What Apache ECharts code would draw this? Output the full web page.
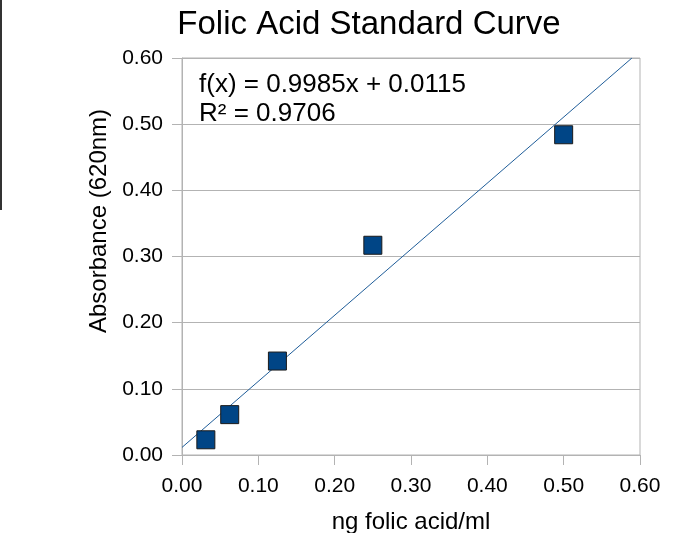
<!DOCTYPE html>
<html>
<head>
<meta charset="utf-8">
<script src="https://cdn.jsdelivr.net/npm/echarts@6/dist/echarts.min.js"></script>
<style>
  html, body { margin: 0; padding: 0; background: #fff; }
  #chart { width: 675px; height: 533px; }
</style>
</head>
<body>
<div id="chart"></div>
<script>
// standards (ng folic acid/ml) and measured absorbance at 620nm
const concentrations = [0.03125, 0.0625, 0.125, 0.25, 0.5]
const absorbance = [0.023, 0.061, 0.142, 0.317, 0.484]

// linear trend line ends (clipped at the top of the plot)
const trendX = [0, 0.5894]
const trendY = [0.0115, 0.6]

const axisTicks = ['0.00', '0.10', '0.20', '0.30', '0.40', '0.50', '0.60']
const equationLines = ['f(x) = 0.9985x + 0.0115', 'R² = 0.9706']
const yTitle = 'Absorbance (620nm)'

const font = 'Liberation Sans, Arial, sans-serif'
const gray = '#b3b3b3'

const chart = echarts.init(document.getElementById('chart'))

const axisCommon = {
  type: 'value',
  min: 0,
  max: 0.6,
  interval: 0.1,
  axisLine: { show: true, lineStyle: { color: gray } },
  axisTick: { show: true, inside: false, length: 10, lineStyle: { color: gray } },
  axisLabel: {
    color: '#000',
    fontFamily: font,
    fontSize: 21,
    formatter: v => axisTicks[Math.round(v * 10)]
  },
  nameLocation: 'middle',
  nameTextStyle: { color: '#000', fontFamily: font, fontSize: 24 }
}

chart.setOption({
  animation: false,
  title: {
    text: 'Folic Acid Standard Curve',
    left: 364,
    textAlign: 'center',
    top: 3,
    textStyle: { color: '#000', fontFamily: font, fontSize: 33, fontWeight: 'normal' }
  },
  grid: {
    left: 182,
    right: 35,
    top: 58,
    bottom: 78,
    outerBoundsMode: 'none',
    containLabel: false,
    show: true,
    borderColor: gray,
    borderWidth: 1
  },
  xAxis: Object.assign({}, axisCommon, {
    name: 'ng folic acid/ml',
    nameGap: 55,
    splitLine: { show: false },
    axisLabel: Object.assign({}, axisCommon.axisLabel, { margin: 21 })
  }),
  yAxis: Object.assign({}, axisCommon, {
    splitLine: { show: true, lineStyle: { color: gray } },
    axisLabel: Object.assign({}, axisCommon.axisLabel, { margin: 19 })
  }),
  graphic: [
    {
      type: 'rect',
      shape: { x: 0, y: 0, width: 2, height: 210 },
      style: { fill: '#333' }
    },
    {
      // y axis title sits a little above the plot's middle in the original
      type: 'text',
      x: 99,
      y: 221,
      rotation: Math.PI / 2,
      style: {
        text: yTitle,
        fill: '#000',
        font: '24px ' + font,
        textAlign: 'center',
        textVerticalAlign: 'middle',
        align: 'center',
        verticalAlign: 'middle'
      }
    },
    {
      type: 'text',
      left: 199,
      top: 70,
      style: {
        text: equationLines.join('\n'),
        fill: '#000',
        font: '26px ' + font,
        lineHeight: 29
      }
    }
  ],
  series: [
    {
      name: 'Trend',
      type: 'line',
      data: trendX.map((x, i) => [x, trendY[i]]),
      symbol: 'none',
      lineStyle: { color: '#1f5d99', width: 1 },
      z: 3
    },
    {
      name: 'Standards',
      type: 'scatter',
      data: concentrations.map((x, i) => [x, absorbance[i]]),
      symbol: 'rect',
      symbolSize: 18,
      itemStyle: { color: '#004586', borderColor: '#1a1a1a', borderWidth: 1, opacity: 1 },
      z: 4
    }
  ]
})
</script>
</body>
</html>
